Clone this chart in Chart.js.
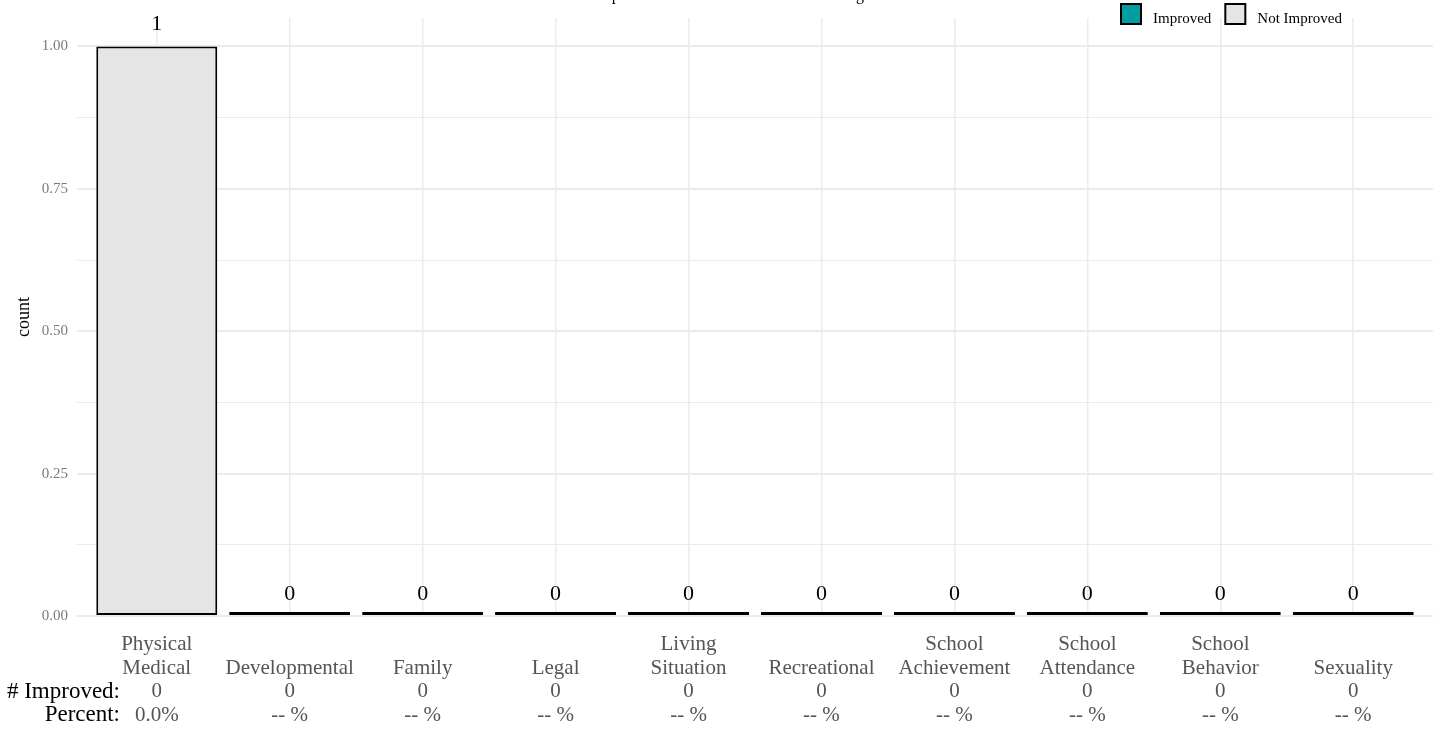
<!DOCTYPE html>
<html>
<head>
<meta charset="utf-8">
<script src="https://cdn.jsdelivr.net/npm/chart.js@4/dist/chart.umd.min.js"></script>
<style>
  body { margin: 0; background: #fff; }
</style>
</head>
<body>
<canvas id="chart" width="1440" height="731"></canvas>
<script>
// Data
const categories = [
    ["Physical", "Medical"], ["Developmental"], ["Family"], ["Legal"],
    ["Living", "Situation"], ["Recreational"], ["School", "Achievement"],
    ["School", "Attendance"], ["School", "Behavior"], ["Sexuality"]
];
const improved    = [0, 0, 0, 0, 0, 0, 0, 0, 0, 0];
const notImproved = [1, 0, 0, 0, 0, 0, 0, 0, 0, 0];
const yTicks = [0, 0.25, 0.5, 0.75, 1];
const seriesNames = ["Improved", "Not Improved"];
const seriesColors = ["#009e9f", "#e5e5e5"];
const chartTitle = "Improvement in Life Domain Functioning";
const rowLabels = ["# Improved:", "Percent:"];

const FONT = "'Liberation Serif', 'DejaVu Serif', serif";
const totals = improved.map((v, i) => v + notImproved[i]);
const percents = totals.map((t, i) => t ? (improved[i] / t * 100).toFixed(1) + "%" : "-- %");

// minor gridlines halfway between the major ticks
const allTicks = [];
yTicks.forEach((v, i) => {
    allTicks.push(v);
    if (i < yTicks.length - 1) allTicks.push((v + yTicks[i + 1]) / 2);
});

const TICK_PAD = 17;
const TICK_LH = 23.5;

const extras = {
    id: "extras",
    afterDatasetsDraw(chart) {
        const ctx = chart.ctx;
        const xs = chart.scales.x, ys = chart.scales.y;
        ctx.save();
        // count labels above bars
        ctx.fillStyle = "#000";
        ctx.font = "22px " + FONT;
        ctx.textAlign = "center";
        ctx.textBaseline = "alphabetic";
        totals.forEach((t, i) => {
            ctx.fillText(String(t), xs.getPixelForValue(i), ys.getPixelForValue(t) - 16);
        });
        // row labels left of tick labels
        ctx.font = "23px " + FONT;
        ctx.textAlign = "right";
        ctx.textBaseline = "middle";
        rowLabels.forEach((lab, k) => {
            ctx.fillText(lab, 120, xs.top + TICK_PAD + TICK_LH * (k + 2.5));
        });
        // title (runs off the top edge)
        ctx.font = "16px " + FONT;
        ctx.textAlign = "center";
        ctx.textBaseline = "alphabetic";
        ctx.fillText(chartTitle, 729, 0);
        // legend
        ctx.font = "15px " + FONT;
        ctx.textAlign = "left";
        let x = 1121;
        seriesNames.forEach((name, i) => {
            ctx.fillStyle = seriesColors[i];
            ctx.fillRect(x, 4, 20, 20);
            ctx.strokeStyle = "#000";
            ctx.lineWidth = 2;
            ctx.strokeRect(x, 4, 20, 20);
            ctx.fillStyle = "#000";
            ctx.fillText(name, x + 32, 23);
            x += 32 + ctx.measureText(name).width + 14;
        });
        ctx.restore();
    }
};

const ctx = document.getElementById("chart").getContext("2d");
new Chart(ctx, {
    type: "bar",
    data: {
        datasets: [
            {
                label: seriesNames[0],
                data: improved.map((v, i) => ({ x: i, y: v })),
                backgroundColor: seriesColors[0],
                borderColor: "#000",
                borderWidth: 2,
                borderSkipped: false
            },
            {
                label: seriesNames[1],
                data: notImproved.map((v, i) => ({ x: i, y: v })),
                backgroundColor: seriesColors[1],
                borderColor: "#000",
                borderWidth: 2,
                borderSkipped: false,
                minBarLength: 4
            }
        ]
    },
    options: {
        responsive: false,
        animation: false,
        devicePixelRatio: 1,
        barPercentage: 0.91,
        categoryPercentage: 1,
        layout: { padding: { top: 16, right: 7, left: 0, bottom: 0 } },
        plugins: {
            legend: { display: false },
            title: { display: false },
            tooltip: { enabled: false }
        },
        scales: {
            x: {
                type: "linear",
                stacked: true,
                offset: false,
                min: -0.6,
                max: categories.length - 1 + 0.6,
                afterBuildTicks: s => { s.ticks = categories.map((c, i) => ({ value: i })); },
                afterFit: s => { s.height = 115; },
                grid: { color: "#ebebeb", lineWidth: 1.5, drawTicks: false, offset: false },
                border: { display: false },
                ticks: {
                    autoSkip: false,
                    maxRotation: 0,
                    padding: TICK_PAD,
                    color: "#555",
                    font: { family: FONT, size: 21, lineHeight: TICK_LH / 21 },
                    callback: v => {
                        const name = categories[v];
                        const pad = Array(2 - name.length).fill("");
                        return [...pad, ...name, String(improved[v]), percents[v]];
                    }
                }
            },
            y: {
                stacked: true,
                min: 0,
                max: 1.05,
                afterBuildTicks: s => { s.ticks = allTicks.map(v => ({ value: v })); },
                afterFit: s => { s.width = 77; },
                grid: {
                    drawTicks: false,
                    color: "#ebebeb",
                    lineWidth: c => yTicks.includes(c.tick.value) ? 2 : 1
                },
                border: { display: false },
                ticks: {
                    padding: 9,
                    color: "#7a7a7a",
                    font: { family: FONT, size: 15 },
                    callback: v => yTicks.includes(v) ? v.toFixed(2) : ""
                },
                title: {
                    display: true,
                    text: "count",
                    color: "#000",
                    font: { family: FONT, size: 18 },
                    padding: { top: 13, bottom: 0 }
                }
            }
        }
    },
    plugins: [extras]
});
</script>
</body>
</html>
